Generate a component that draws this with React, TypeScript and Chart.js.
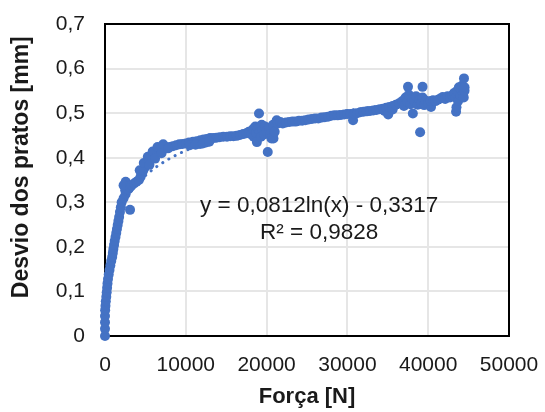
import React, { useEffect, useRef } from 'react';
import { Chart, registerables } from 'chart.js';

Chart.register(...registerables);

// Force [N], deflection [mm]
const riseData: [number, number][] = [
  [0, 0], [0, 0.016], [0, 0.031], [0, 0.045],
  [20, 0.058], [60, 0.068], [100, 0.078], [160, 0.088], [210, 0.098], [260, 0.108],
  [310, 0.118], [370, 0.128], [460, 0.138], [560, 0.148], [660, 0.158], [770, 0.168],
  [890, 0.177], [970, 0.186], [1040, 0.195], [1120, 0.204], [1200, 0.213], [1300, 0.222],
  [1390, 0.231], [1480, 0.24], [1570, 0.249], [1660, 0.258], [1750, 0.267], [1850, 0.278],
  [1960, 0.289], [2060, 0.3], [2300, 0.309], [2550, 0.318], [2500, 0.327], [2850, 0.329],
  [2560, 0.346], [2300, 0.338], [3100, 0.334], [3300, 0.338], [3600, 0.342], [3900, 0.346],
  [4200, 0.35], [4400, 0.357], [4550, 0.364], [4700, 0.37], [4850, 0.376], [5000, 0.382],
  [5200, 0.388], [5400, 0.393], [5600, 0.398], [5850, 0.403], [6100, 0.408], [6400, 0.413],
  [6800, 0.418], [7200, 0.421], [7600, 0.423], [8000, 0.424], [8400, 0.426], [8800, 0.428],
  [9200, 0.43], [9600, 0.431], [10000, 0.432],
  [4300, 0.372], [4800, 0.388], [5300, 0.402], [5900, 0.414], [6500, 0.424], [7200, 0.43],
  [5500, 0.384], [6200, 0.398], [7000, 0.41], [7800, 0.421],
];

const outlierRise: [number, number][] = [[3100, 0.283]];

const plateauData: [number, number][] = [
  [10400, 0.434], [10900, 0.436], [11350, 0.437], [11800, 0.439], [12200, 0.441], [12600, 0.442],
  [13000, 0.444], [13400, 0.444], [13800, 0.445], [14200, 0.446], [14640, 0.447], [15100, 0.447],
  [15500, 0.448], [15900, 0.448], [16300, 0.449], [16700, 0.451], [17100, 0.453], [17500, 0.455],
  [11760, 0.431], [12500, 0.434], [10500, 0.428], [11200, 0.429], [12100, 0.432], [12900, 0.436],
];

const clusterData: [number, number][] = [
  [17800, 0.458], [18100, 0.452], [18300, 0.464], [18400, 0.447], [18600, 0.47], [18700, 0.456],
  [18800, 0.435], [18900, 0.466], [19060, 0.499], [19150, 0.458], [19300, 0.447], [19400, 0.474],
  [19500, 0.462], [19700, 0.452], [19800, 0.47], [20000, 0.46], [20140, 0.413], [20300, 0.467],
  [20450, 0.452], [20600, 0.443], [20800, 0.474], [20850, 0.443], [21000, 0.458], [21250, 0.484],
  [21400, 0.477], [21700, 0.48],
];

const middleData: [number, number][] = [
  [22000, 0.477], [22400, 0.479], [22800, 0.48], [23200, 0.481], [23600, 0.481], [24000, 0.483],
  [24400, 0.483], [24800, 0.484], [25200, 0.486], [25600, 0.487], [26000, 0.488], [26400, 0.488],
  [26800, 0.49], [27200, 0.491], [27600, 0.492], [28000, 0.494], [28400, 0.495], [28800, 0.495],
  [29200, 0.496], [29600, 0.497], [30000, 0.498], [30400, 0.498], [30700, 0.484], [30800, 0.499],
  [31200, 0.5], [31600, 0.502], [32000, 0.503], [32400, 0.504], [32800, 0.505], [33200, 0.506],
  [33600, 0.507], [34000, 0.509], [34400, 0.51], [34600, 0.505], [34800, 0.512], [35050, 0.497],
  [35200, 0.514], [35600, 0.516], [35600, 0.508], [36000, 0.519], [36400, 0.522],
];

const endData: [number, number][] = [
  [36800, 0.527], [37000, 0.516], [37200, 0.535], [37400, 0.525], [37500, 0.559], [37600, 0.541],
  [37800, 0.52], [38000, 0.532], [38100, 0.499], [38300, 0.527], [38500, 0.538], [38700, 0.519],
  [38900, 0.53], [39000, 0.457], [39100, 0.522], [39300, 0.559], [39300, 0.535], [39500, 0.518],
  [39700, 0.528], [40000, 0.522], [40350, 0.514], [40300, 0.527], [40600, 0.529], [40900, 0.527],
  [41200, 0.53], [41500, 0.533], [41800, 0.536], [42100, 0.532], [42400, 0.538], [42700, 0.535],
  [43000, 0.54], [43200, 0.545], [43400, 0.535], [43450, 0.503], [43500, 0.513], [43600, 0.55],
  [43700, 0.527], [43800, 0.558], [44000, 0.54], [44100, 0.553], [44200, 0.562], [44300, 0.545],
  [44400, 0.535], [44430, 0.578], [44500, 0.55], [44500, 0.558],
];

// Logarithmic trendline y = a ln(x) + b
const trendA = 0.0812;
const trendB = -0.3317;
const rSquared = 0.9828;
const trendStart = 60;

const xMin = 0, xMax = 50000, xStep = 10000;
const yMin = 0, yMax = 0.7, yStep = 0.1;
const xTitle = 'Força [N]';
const yTitle = 'Desvio dos pratos [mm]';

// label anchor in data units
const eqAnchorX = 26500;
const eqLine1Y = 0.278;
const eqLine2Y = 0.2184;

const FONT = '"Liberation Sans", Arial, Helvetica, sans-serif';
const BLUE = '#4472C4';
const TEXT = '#1a1a1a';

const comma = (v: number, d: number) => v.toFixed(d).replace('.', ',');

export default function App() {
  const ref = useRef<HTMLCanvasElement>(null);

  useEffect(() => {
    document.body.style.margin = '0';
    const canvas = ref.current;
    if (!canvas) return;

    const pts = [...riseData, ...outlierRise, ...plateauData, ...clusterData, ...middleData, ...endData]
      .map(([x, y]) => ({ x, y }));
    const maxX = Math.max(...pts.map((p) => p.x));
    const trend: { x: number; y: number }[] = [];
    const N = 400;
    for (let i = 0; i <= N; i++) {
      const x = trendStart * Math.pow(maxX / trendStart, i / N);
      trend.push({ x, y: trendA * Math.log(x) + trendB });
    }

    const eq1 = `y = ${comma(trendA, 4)}ln(x) - ${comma(-trendB, 4)}`;
    const eq2 = `R² = ${comma(rSquared, 4)}`;

    const framePlugin = {
      id: 'framePlugin',
      beforeDatasetsDraw(chart: any) {
        const { ctx, chartArea: a } = chart;
        ctx.save();
        ctx.strokeStyle = '#000';
        ctx.lineWidth = 2;
        ctx.strokeRect(a.left, a.top, a.right - a.left, a.bottom - a.top);
        ctx.restore();
      },
      afterDatasetsDraw(chart: any) {
        const { ctx } = chart;
        const xs = chart.scales.x;
        const ys = chart.scales.y;
        ctx.save();
        ctx.font = `22.5px ${FONT}`;
        ctx.fillStyle = TEXT;
        ctx.textAlign = 'center';
        ctx.textBaseline = 'alphabetic';
        const cx = xs.getPixelForValue(eqAnchorX);
        ctx.fillText(eq1, cx, ys.getPixelForValue(eqLine1Y));
        ctx.fillText(eq2, cx, ys.getPixelForValue(eqLine2Y));
        ctx.restore();
      },
    };

    const chart = new Chart(canvas, {
      type: 'scatter',
      data: {
        datasets: [
          {
            label: 'Desvio',
            data: pts,
            backgroundColor: BLUE,
            borderColor: BLUE,
            borderWidth: 0,
            pointRadius: 5,
            clip: false as any,
          },
          {
            type: 'line' as any,
            label: 'Tendência',
            data: trend,
            borderColor: BLUE,
            borderWidth: 3,
            borderDash: [0.1, 7],
            borderCapStyle: 'round',
            pointRadius: 0,
            fill: false,
            tension: 0,
          } as any,
        ],
      },
      options: {
        responsive: false,
        animation: false,
        devicePixelRatio: 1,
        layout: { padding: { left: 0, right: 36, top: 24, bottom: 0 } },
        plugins: { legend: { display: false }, tooltip: { enabled: false } },
        scales: {
          x: {
            type: 'linear',
            min: xMin,
            max: xMax,
            ticks: {
              stepSize: xStep,
              padding: 17,
              color: TEXT,
              font: { family: FONT, size: 21 },
              callback: (v: any) => String(v),
              maxRotation: 0,
            },
            grid: { color: '#e6e6e6', lineWidth: 2, drawTicks: false },
            border: { display: false },
            title: {
              display: true,
              text: xTitle,
              color: TEXT,
              font: { family: FONT, size: 22, weight: 'bold' },
              padding: { top: 0, bottom: 2 },
            },
            afterFit: (s: any) => { s.height = 76; s.paddingLeft = 0; s.paddingRight = 0; },
          },
          y: {
            type: 'linear',
            min: yMin,
            max: yMax,
            ticks: {
              stepSize: yStep,
              padding: 20,
              color: TEXT,
              font: { family: FONT, size: 21 },
              callback: (v: any) => (Math.abs(v) < 1e-9 ? '0' : comma(Number(v), 1)),
            },
            grid: { color: '#e6e6e6', lineWidth: 2, drawTicks: false },
            border: { display: false },
            title: {
              display: true,
              text: '    ' + yTitle,
              color: TEXT,
              font: { family: FONT, size: 23, weight: 'bold' },
              padding: { top: 8, bottom: 0 },
            },
            afterFit: (s: any) => { s.width = 105; s.paddingTop = 0; s.paddingBottom = 0; },
          },
        },
      },
      plugins: [framePlugin],
    });

    return () => chart.destroy();
  }, []);

  return (
    <div style={{ width: 545, height: 412, background: '#fff' }}>
      <canvas ref={ref} width={545} height={412} />
    </div>
  );
}
